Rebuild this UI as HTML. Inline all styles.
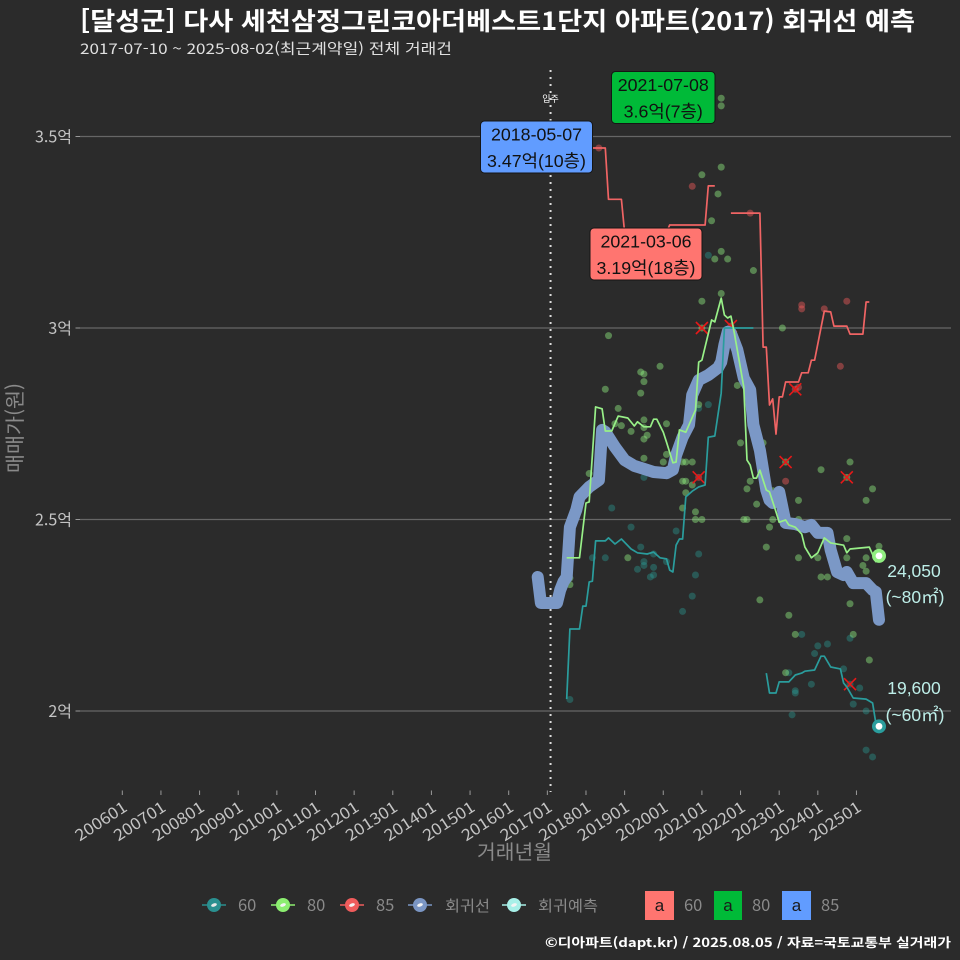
<!DOCTYPE html>
<html lang="ko"><head><meta charset="utf-8"><title>달성군 다사 세천삼정그린코아더베스트1단지 회귀선 예측</title>
<style>
html,body{margin:0;padding:0;background:#2b2b2b}
svg{display:block}
text{font-family:"Liberation Sans","Noto Sans CJK KR",sans-serif}
.kr{font-family:"Noto Sans CJK KR","Liberation Sans",sans-serif}
</style></head><body>
<svg id="chart" xmlns="http://www.w3.org/2000/svg" width="960" height="960" viewBox="0 0 960 960">
<rect width="960" height="960" fill="#2b2b2b"/>
<text class="kr" x="80" y="30" font-size="25" font-weight="700" fill="#fff" textLength="835" lengthAdjust="spacingAndGlyphs">[달성군] 다사 세천삼정그린코아더베스트1단지 아파트(2017) 회귀선 예측</text>
<text class="kr" x="80" y="54" font-size="14.5" fill="#e0e0e0" textLength="372" lengthAdjust="spacingAndGlyphs">2017-07-10 ~ 2025-08-02(최근계약일) 전체 거래건</text>
<g id="grid"></g><g id="xaxis"></g>
<line id="moveIn" y1="70" y2="792" stroke="#ddd" stroke-width="2" stroke-dasharray="2 5"/>
<text class="kr" id="moveInLabel" y="102" font-size="9" fill="#fff" text-anchor="middle">입주</text>
<g id="points"></g><g id="crosses"></g><g id="lines"></g><g id="ends"></g><g id="labels"></g>
<text class="kr" transform="translate(22,428) rotate(-90)" font-size="20" fill="#8a8a8a" text-anchor="middle" textLength="90" lengthAdjust="spacingAndGlyphs">매매가(원)</text>
<text class="kr" x="514.5" y="859" font-size="20" fill="#8a8a8a" text-anchor="middle" textLength="75" lengthAdjust="spacingAndGlyphs">거래년월</text>
<g font-size="16.5" fill="#8a8a8a">
<g><line x1="202" x2="226" y1="905" y2="905" stroke="#2a9090" stroke-width="1.5"/><circle cx="214" cy="905" r="7" fill="#2a9090"/><ellipse cx="214" cy="905" rx="3" ry="1.6" fill="#e8e8e8" transform="rotate(-20 214 905)"/><text class="kr" x="238" y="911">60</text></g>
<g><line x1="271" x2="295" y1="905" y2="905" stroke="#8cee70" stroke-width="1.5"/><circle cx="283" cy="905" r="7" fill="#8cee70"/><ellipse cx="283" cy="905" rx="3" ry="1.6" fill="#f4f4f4" transform="rotate(-20 283 905)"/><text class="kr" x="307" y="911">80</text></g>
<g><line x1="340" x2="364" y1="905" y2="905" stroke="#f05c5c" stroke-width="1.5"/><circle cx="352" cy="905" r="7" fill="#f05c5c"/><ellipse cx="352" cy="905" rx="3" ry="1.6" fill="#f4f4f4" transform="rotate(-20 352 905)"/><text class="kr" x="376" y="911">85</text></g>
<g><line x1="408" x2="432" y1="905" y2="905" stroke="#7b96c4" stroke-width="1.5"/><circle cx="420" cy="905" r="7" fill="#7b96c4"/><ellipse cx="420" cy="905" rx="3" ry="1.6" fill="#f4f4f4" transform="rotate(-20 420 905)"/><text class="kr" x="445" y="911" font-size="15" textLength="45" lengthAdjust="spacingAndGlyphs">회귀선</text></g>
<g><line x1="502" x2="526" y1="905" y2="905" stroke="#a8f0e8" stroke-width="1.5"/><circle cx="514" cy="905" r="7" fill="#a8f0e8"/><ellipse cx="514" cy="905" rx="3" ry="1.6" fill="#f4f4f4" transform="rotate(-20 514 905)"/><text class="kr" x="538" y="911" font-size="15" textLength="60" lengthAdjust="spacingAndGlyphs">회귀예측</text></g>
</g>
<g font-size="16.5">
<g><rect x="645" y="891" width="29" height="29" fill="#ff7570"/><text x="659.5" y="911" font-size="17" fill="#1a1a1a" text-anchor="middle">a</text><text class="kr" x="684" y="911" fill="#8a8a8a">60</text></g>
<g><rect x="714" y="891" width="28" height="29" fill="#00ba38"/><text x="728" y="911" font-size="17" fill="#1a1a1a" text-anchor="middle">a</text><text class="kr" x="752" y="911" fill="#8a8a8a">80</text></g>
<g><rect x="782" y="891" width="29" height="29" fill="#619cff"/><text x="796.5" y="911" font-size="17" fill="#1a1a1a" text-anchor="middle">a</text><text class="kr" x="821" y="911" fill="#8a8a8a">85</text></g>
</g>
<text class="kr" x="545" y="947" font-size="12.5" font-weight="700" fill="#fff" textLength="406" lengthAdjust="spacingAndGlyphs">©디아파트(dapt.kr) / 2025.08.05 / 자료=국토교통부 실거래가</text>
</svg>
<script>
// ---- axis data ----
const yTickValues = [20000, 25000, 30000, 35000];
const yTickLabels = ['2억', '2.5억', '3억', '3.5억'];
const xTickMonths = [200601,200701,200801,200901,201001,201101,201201,201301,201401,201501,201601,201701,201801,201901,202001,202101,202201,202301,202401,202501];
const moveInMonth = 201702;

// ---- line series (yyyymm, 만원); null breaks the line ----
const regressionMonths = [201610,201611,201704,201705,201706,201707,201708,201710,201711,201802,201805,201806,201807,201810,201901,201904,201907,201910,202002,202004,202005,202007,202009,202010,202012,202103,202106,202107,202108,202109,202110,202112,202202,202204,202205,202207,202209,202210,202211,202301,202303,202306,202309,202311,202401,202404,202405,202407,202409,202410,202412,202504,202506,202507,202508];
const regressionValues = [23500,22820,22820,23160,23370,23500,24800,25250,25590,25850,26030,27340,27290,26890,26550,26400,26320,26240,26210,26300,26680,27150,27470,28250,28640,28770,28960,29110,29560,29900,29870,29430,28690,28380,27470,26810,25770,25510,25430,25720,24910,24880,24800,24860,24650,24650,24200,23630,23550,23630,23340,23340,23160,23110,22380];

const series60Months = [201707,201708,201711,201712,201801,201802,201803,201804,201807,201808,201810,201812,201903,201905,201908,201910,201912,202002,202003,202004,202005,202006,202007,202008,202010,202012,202102,202103,202105,202107,202108,202205,202206,202209,202210,202212,202301,202304,202306,202308,202309,202312,202402,202403,202405,202408,202409,202410,202412,202504,202506,202507,202508];
const series60Values = [20310,22140,22140,22740,22740,23370,23390,24440,24440,24520,24360,24490,24230,24130,24100,24150,24000,23970,23680,23630,24330,24490,24490,25590,25740,25850,25900,27150,27180,28300,30000,30000,null,20990,20470,20470,20760,20760,20940,20990,21040,21070,21430,21430,21150,21100,20730,20630,20340,20310,20210,19690,19600];

const series80Months = [201707,201711,201712,201801,201802,201804,201806,201807,201809,201811,201902,201904,201905,201907,201909,201910,201911,202001,202002,202004,202005,202006,202008,202011,202012,202101,202104,202105,202107,202108,202109,202110,202111,202202,202203,202204,202205,202206,202207,202209,202210,202212,202301,202303,202304,202306,202308,202309,202311,202401,202403,202405,202409,202410,202411,202505,202507,202508];
const series80Values = [24000,24000,24730,25430,25460,27940,27890,27310,27310,27700,27650,27440,27550,27420,27420,27620,27620,27280,27020,26480,26500,27340,27280,27860,29110,29160,30210,30160,30780,30340,30260,30310,29900,28460,26550,26420,26080,26080,26290,25770,25720,25200,24930,24990,24860,24800,24620,24280,24000,24130,24520,24390,24330,24130,24230,24280,23900,24050];

const series85Months = [201803,201807,201808,201812,201901,202002,202003,202102,202103,202105,202108,202110,202207,202208,202209,202210,202211,202212,202301,202302,202303,202307,202308,202310,202311,202312,202403,202405,202406,202410,202411,202503,202504,202505];
const series85Values = [34700,34700,33360,33360,32500,32500,32690,32690,33710,33710,null,33000,33000,29500,29500,27990,28150,27230,28200,28200,28590,28590,28830,28830,29160,29160,30440,30420,30050,30050,29840,29840,30680,30680];

// ---- individual transactions ----
const points80Months = [202107,202107,202107,202101,202106,202104,202107,202105,202109,202205,202107,202101,201808,201906,201907,201912,201907,201807,201906,202112,201811,202012,201907,201810,201812,201903,201907,201908,201907,202002,202201,202002,201907,202001,202007,202008,202010,201802,202007,202008,202010,202204,202203,202008,202206,202007,202011,202011,202101,202202,202203,202302,202208,202402,202411,202506,202307,202504,202211,202211,202307,202210,202209,202307,202401,202410,202410,202504,202503,202504,202402,202404,202207,202411,202304,202306,202412,202505,202303,202508,201902,201708,201708,202101,202303,202410];
const points80Values = [36000,35800,34200,34000,33500,32800,32000,31800,31800,31500,30900,30700,29800,28850,28800,29000,28600,28400,28300,28500,27900,28000,27600,27500,27450,27300,27400,27200,27100,27500,27000,26700,26600,26500,26500,26500,26500,26200,26000,26000,25900,26000,25800,25700,25400,25300,25200,25000,25000,25000,25000,30000,27000,26300,26500,25800,25500,25500,25750,25000,25000,24800,24280,24000,24000,24500,24000,24000,23800,23650,23500,23500,22900,22800,22500,22000,22000,21330,21000,24300,24000,23470,23300,30000,26500,26100];

const points85Months = [202010,201805,202204,202308,202308,202403,202410,202408,202303,202307,202306,202110,202012];
const points85Values = [33700,34700,33000,30600,30500,30500,30700,29000,26000,28450,28400,30050,26100];

const points60Months = [202103,202103,202012,201907,201809,201903,202005,201803,201807,201906,201910,201907,201907,201905,201910,202002,202012,202011,201910,201909,202010,202007,201708,202308,202411,202401,202404,202312,202409,202304,202311,202306,202306,202502,202412,202504,202305,202504,202506,202411];
const points60Values = [31900,28000,27900,26100,25300,24800,24700,24000,24000,24280,24100,23900,23800,23700,23750,23900,24100,23550,23550,23500,23000,22600,20300,22000,21900,21700,21750,21500,21100,21000,20700,20470,20530,20600,20180,20000,19900,18980,18800,20700];

// ---- flagged (cancelled) transactions ----
const crossMonths = [202101,202012,202110,202303,202410,202306,202411];
const crossValues = [30000,26100,30050,26500,26100,28400,20700];

// ---- callouts ----
const calloutDates = ['2018-05-07','2021-07-08','2021-03-06'];
const calloutPrices = ['3.47억(10층)','3.6억(7층)','3.19억(18층)'];
const endValues = ['24,050','19,600'];
const endAreas = ['(~80㎡)','(~60㎡)'];

// ---- scales ----
const NS = 'http://www.w3.org/2000/svg';
function monthIndex(ym){ return (Math.floor(ym/100)-2006)*12 + (ym%100) - 1; }
function xScale(ym){ return 122.3 + 3.22*monthIndex(ym); }
function yScale(v){ return 711 - (v-20000)*0.0383; }
function make(tag, attrs, parent, txt){
  const e = document.createElementNS(NS, tag);
  for (const k in attrs) e.setAttribute(k, attrs[k]);
  if (txt !== undefined) e.textContent = txt;
  parent.appendChild(e);
  return e;
}
const $ = id => document.getElementById(id);

// grid + y axis
yTickValues.forEach((v,i)=>{
  const y = yScale(v);
  const g = make('line',{x1:80,x2:951,y1:y,y2:y,stroke:'#666','stroke-width':1.2},$('grid'));
  
  
  const t = make('line',{x1:75.5,x2:80,y1:y,y2:y,stroke:'#999','stroke-width':1},$('grid'));
  
  
  const l = make('text',{x:72,y:y+6,'font-size':16,fill:'#c4c4c4','text-anchor':'end',class:'kr'},$('grid'),yTickLabels[i]);
  
  
});
// x axis
xTickMonths.forEach(m=>{
  const x = xScale(m);
  const t = make('line',{x1:x,x2:x,y1:790.5,y2:795,stroke:'#999','stroke-width':1},$('xaxis'));
  
  
  const l = make('text',{transform:`translate(${x+6},${810}) rotate(-33)`,'font-size':15.5,fill:'#c4c4c4','text-anchor':'end',class:'kr',textLength:58,lengthAdjust:'spacingAndGlyphs'},$('xaxis'),String(m));
  
  
});
$('moveIn').setAttribute('x1', xScale(moveInMonth));
$('moveIn').setAttribute('x2', xScale(moveInMonth));
$('moveInLabel').setAttribute('x', xScale(moveInMonth));

// scatter
function drawPoints(months, values, color, alpha, name){
  months.forEach((m,i)=>{
    const c = make('circle',{cx:xScale(m),cy:yScale(values[i]),r:3.5,fill:color,'fill-opacity':alpha},$('points'));
    
    
  });
}
drawPoints(points60Months, points60Values, '#2a9d96', 0.4, 'trade-point-60');
drawPoints(points80Months, points80Values, '#90ee80', 0.45, 'trade-point-80');
drawPoints(points85Months, points85Values, '#f05c5c', 0.45, 'trade-point-85');

// crosses
crossMonths.forEach((m,i)=>{
  const x = xScale(m), y = yScale(crossValues[i]), s = 6;
  const p = make('path',{d:`M${x-s} ${y-s}L${x+s} ${y+s}M${x-s} ${y+s}L${x+s} ${y-s}`,stroke:'#e81818','stroke-width':1.6,fill:'none'},$('crosses'));
  
  
});

// lines
function linePath(months, values){
  let d = '', pen = false;
  months.forEach((m,i)=>{
    if (values[i] === null){ pen = false; return; }
    d += (pen ? 'L' : 'M') + xScale(m).toFixed(1) + ' ' + yScale(values[i]).toFixed(1);
    pen = true;
  });
  return d;
}
function drawLine(months, values, color, width, name){
  const p = make('path',{d:linePath(months,values),stroke:color,'stroke-width':width,fill:'none','stroke-linejoin':'round','stroke-linecap':width>5?'round':'butt'},$('lines'));
  
  
}
drawLine(regressionMonths, regressionValues, '#7b98c6', 12, 'regression-line');
drawLine(series60Months, series60Values, '#2a9d9d', 1.7, 'line-60');
drawLine(series85Months, series85Values, '#f06464', 1.7, 'line-85');
drawLine(series80Months, series80Values, '#98f088', 1.7, 'line-80');

// end markers
function endMarker(month, value, color, name){
  const o = make('circle',{cx:xScale(month),cy:yScale(value),r:7,fill:color},$('ends'));
  
  
  const n = make('circle',{cx:xScale(month),cy:yScale(value),r:3.4,fill:'#fff'},$('ends'));
  
  
}
endMarker(series80Months[series80Months.length-1], series80Values[series80Values.length-1], '#90ee80', 'forecast-marker-80');
endMarker(series60Months[series60Months.length-1], series60Values[series60Values.length-1], '#2a9d9d', 'forecast-marker-60');

[[571,597],[688,715]].forEach((ys,i)=>{
  const a = make('text',{x:914,y:ys[0]+6,'font-size':17.5,fill:'#bdeee8','text-anchor':'middle'},$('ends'),endValues[i]);
  
  
  const b = make('text',{x:915,y:ys[1]+6,'font-size':17.5,fill:'#bdeee8','text-anchor':'middle'},$('ends'),endAreas[i]);
  
  
});

// callouts
const calloutBoxes = [[480.5,121,112,52,'#619cff'],[611.5,71.5,103.5,52,'#00ba38'],[590,228,112,52,'#ff7570']];
calloutBoxes.forEach((b,i)=>{
  const r = make('rect',{x:b[0],y:b[1],width:b[2],height:b[3],rx:4,fill:b[4],stroke:'#151515','stroke-width':1},$('labels'));
  
  
  const cx = b[0]+b[2]/2;
  const d = make('text',{x:cx,y:b[1]+19.5,'font-size':17.8,fill:'#111','text-anchor':'middle'},$('labels'),calloutDates[i]);
  
  
  const p = make('text',{x:cx,y:b[1]+46,'font-size':17.8,fill:'#111','text-anchor':'middle'},$('labels'),calloutPrices[i]);
  
  
});
</script>
</body></html>
